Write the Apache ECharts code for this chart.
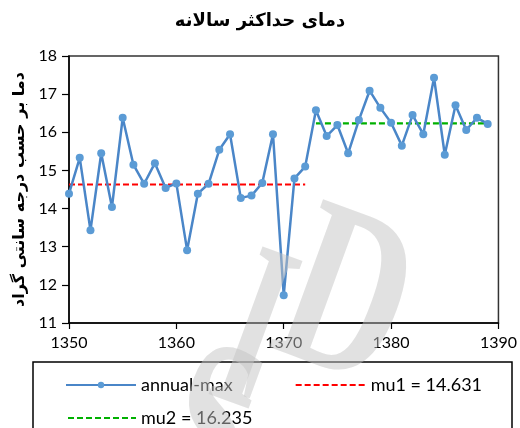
<!DOCTYPE html>
<html><head><meta charset="utf-8">
<script src="https://cdn.jsdelivr.net/npm/echarts@6/dist/echarts.min.js"></script>
<style>html,body{margin:0;padding:0;background:#fff}#c{width:520px;height:428px}</style>
</head><body><div id="c"></div>
<script>
const years = [1350,1351,1352,1353,1354,1355,1356,1357,1358,1359,1360,1361,1362,1363,1364,1365,1366,1367,1368,1369,1370,1371,1372,1373,1374,1375,1376,1377,1378,1379,1380,1381,1382,1383,1384,1385,1386,1387,1388,1389];
const annualMax = [14.39,15.33,13.43,15.45,14.04,16.38,15.15,14.65,15.19,14.54,14.66,12.91,14.39,14.65,15.54,15.95,14.28,14.34,14.67,15.95,11.73,14.79,15.1,16.58,15.9,16.19,15.45,16.32,17.09,16.64,16.25,15.65,16.45,15.95,17.43,15.41,16.71,16.06,16.38,16.22];
const mu1 = 14.631, mu1Range = [1350,1372];
const mu2 = 16.235, mu2Range = [1373,1389];
const title = 'دمای حداکثر سالانه';
const yName = 'دما بر حسب درجه سانتی گراد';
const names = ['annual-max','mu1 = 14.631','mu2 = 16.235'];
const watermark = ['S','I','D'];

const chart = echarts.init(document.getElementById('c'));
const lat = 'Lato, "Open Sans", sans-serif';
const legText = {fontSize:18,fontFamily:lat,color:'#000'};
const wmPos = [[205,440],[250,343],[343,308]];
const wmScale = [0.6,0.55,0.68];
const wm = watermark.map((ch,i)=>({type:'text',x:wmPos[i][0],y:wmPos[i][1],rotation:-0.35,scaleX:wmScale[i],
  style:{text:ch,fontFamily:'Liberation Serif, serif',fontWeight:'bold',fontSize:240,fill:'rgba(195,195,195,0.5)',align:'center',verticalAlign:'middle'},z:100,silent:true}));
chart.setOption({
  animation:false,
  title:{text:title,left:'center',top:7,textStyle:{fontFamily:'DejaVu Sans',fontSize:18,fontWeight:'bold',color:'#000'}},
  grid:{left:69,right:20,top:56,bottom:105,show:true,borderColor:'#333',borderWidth:1.5},
  xAxis:{type:'value',min:1350,max:1390,interval:10,
    axisLine:{lineStyle:{color:'#000',width:1.5}},
    axisTick:{inside:false,length:6,lineStyle:{color:'#000',width:1.2}},
    axisLabel:{color:'#000',fontSize:16,fontFamily:lat,margin:12,formatter:v=>String(v)},
    splitLine:{show:false}},
  yAxis:{type:'value',min:11,max:18,interval:1,
    name:yName,nameLocation:'middle',nameGap:40,nameRotate:90,
    nameTextStyle:{fontFamily:'DejaVu Sans',fontSize:16,fontWeight:'bold',color:'#000'},
    axisLine:{show:true,lineStyle:{color:'#000',width:1.5}},
    axisTick:{show:true,length:7,lineStyle:{color:'#000',width:1.2}},
    axisLabel:{color:'#000',fontSize:16,fontFamily:lat,margin:12},
    splitLine:{show:false}},
  legend:[
    {left:60,top:371,itemWidth:70,itemHeight:8,itemGap:62,textStyle:legText,
      data:[{name:names[0]},{name:names[1],itemStyle:{opacity:0}}]},
    {left:62,top:404,itemWidth:68,itemHeight:8,textStyle:legText,
      data:[{name:names[2],itemStyle:{opacity:0}}]}
  ],
  graphic:[
    {type:'rect',shape:{x:33,y:362,width:479,height:80},style:{fill:'none',stroke:'#000',lineWidth:1.5},z:-1}
  ].concat(wm),
  series:[
    {name:names[0],type:'line',data:years.map((y,i)=>[y,annualMax[i]]),
      symbol:'circle',symbolSize:8,showSymbol:true,
      lineStyle:{color:'#4a86c8',width:2.5},itemStyle:{color:'#5b9bd5'},z:3},
    {name:names[1],type:'line',data:mu1Range.map(y=>[y,mu1]),symbol:'none',
      lineStyle:{color:'#ff0000',width:2.2,type:[6,3]},itemStyle:{color:'#ff0000'},z:2},
    {name:names[2],type:'line',data:mu2Range.map(y=>[y,mu2]),symbol:'none',
      lineStyle:{color:'#00b000',width:2.2,type:[6,3]},itemStyle:{color:'#00b000'},z:2}
  ]
});
</script></body></html>
